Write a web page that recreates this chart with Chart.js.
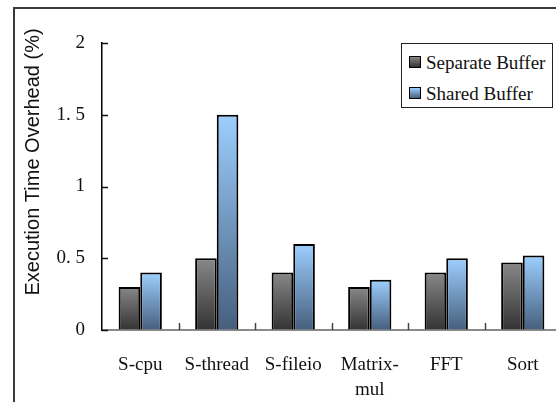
<!DOCTYPE html>
<html>
<head>
<meta charset="utf-8">
<script src="https://cdn.jsdelivr.net/npm/chart.js@4.4.1/dist/chart.umd.min.js"></script>
<style>
  html, body { margin: 0; padding: 0; background: #fff; overflow: hidden; width: 556px; height: 402px; }
  #wrap { position: relative; width: 556px; height: 402px; overflow: hidden; }
  #frame { position: absolute; left: 13px; top: 7px; width: 700px; height: 500px;
           border-left: 2px solid #3a3a3a; border-top: 2px solid #3a3a3a; }
  canvas { position: absolute; left: 0; top: 0; }
  #legend { position: absolute; left: 401px; top: 43px; width: 150px; height: 63px;
            border: 1.5px solid #222; background: #fff;
            font-family: "Liberation Serif", "Times New Roman", serif; font-size: 19px; color: #111; }
  .item { position: absolute; left: 7px; height: 22px; line-height: 22px; white-space: nowrap; }
  .box { display: inline-block; width: 10px; height: 10px; border: 1px solid #000; margin-right: 5px; vertical-align: 1px; }
</style>
</head>
<body>
<div id="wrap">
  <div id="frame"></div>
  <canvas id="myChart" width="575" height="402"></canvas>
  <div id="legend"></div>
</div>
<script>
const categories = ['S-cpu', 'S-thread', 'S-fileio', ['Matrix-', 'mul'], 'FFT', 'Sort'];
const seriesNames = ['Separate Buffer', 'Shared Buffer'];
const separateBuffer = [0.3, 0.5, 0.4, 0.3, 0.4, 0.47];
const sharedBuffer = [0.4, 1.5, 0.6, 0.35, 0.5, 0.52];
const yTicks = [0, 0.5, 1, 1.5, 2];
const yTitle = 'Execution Time Overhead (%)';

// top / bottom colours of each series gradient
const fills = [['#888888', '#333333'], ['#9dcfff', '#465f7e']];

function barGradient(i) {
    return function (c) {
        const chart = c.chart;
        if (!chart.chartArea || c.raw === undefined) return fills[i][0];
        const y = chart.scales.y;
        const top = y.getPixelForValue(c.raw);
        const bottom = y.getPixelForValue(0);
        const g = chart.ctx.createLinearGradient(0, top, 0, bottom);
        g.addColorStop(0, fills[i][0]);
        g.addColorStop(1, fills[i][1]);
        return g;
    };
}

// ticks pointing into the plot, and the rotated y title
const innerTicks = {
    id: 'innerTicks',
    afterDraw(chart) {
        const ctx = chart.ctx;
        const area = chart.chartArea;
        const x = chart.scales.x;
        const y = chart.scales.y;
        ctx.save();
        ctx.lineWidth = 1.5;
        ctx.strokeStyle = '#111';
        y.ticks.forEach(function (t, i) {
            const py = Math.round(y.getPixelForTick(i)) + 0.5;
            ctx.beginPath();
            ctx.moveTo(area.left, py);
            ctx.lineTo(area.left + 6, py);
            ctx.stroke();
        });
        ctx.strokeStyle = '#444';
        for (let i = 1; i < categories.length; i++) {
            const px = Math.round(x.getPixelForValue(i - 0.5)) + 0.5;
            ctx.beginPath();
            ctx.moveTo(px, area.bottom);
            ctx.lineTo(px, area.bottom - 7);
            ctx.stroke();
        }
        ctx.translate(39, 162);
        ctx.rotate(-Math.PI / 2);
        ctx.fillStyle = '#111';
        ctx.font = '20px "Liberation Sans", Arial, sans-serif';
        ctx.textAlign = 'center';
        ctx.textBaseline = 'alphabetic';
        ctx.fillText(yTitle, 0, 0);
        ctx.restore();
    }
};

const config = {
    type: 'bar',
    data: {
        labels: categories,
        datasets: [{
            label: seriesNames[0],
            data: separateBuffer,
            backgroundColor: barGradient(0),
            borderColor: '#000',
            borderWidth: 2,
            categoryPercentage: 0.565,
            barPercentage: 1.0
        }, {
            label: seriesNames[1],
            data: sharedBuffer,
            backgroundColor: barGradient(1),
            borderColor: '#000',
            borderWidth: 2,
            categoryPercentage: 0.565,
            barPercentage: 1.0
        }]
    },
    options: {
        responsive: false,
        animation: false,
        layout: { padding: { left: 0, right: 14, top: 43, bottom: 0 } },
        plugins: {
            legend: { display: false },
            tooltip: { enabled: false }
        },
        scales: {
            x: {
                grid: { display: true, drawOnChartArea: false, drawTicks: false },
                border: { display: true, color: '#8a8a8a', width: 2 },
                ticks: {
                    color: '#111',
                    padding: 22,
                    maxRotation: 0,
                    autoSkip: false,
                    font: { family: '"Liberation Serif", "Times New Roman", serif', size: 19, lineHeight: 1.35 }
                },
                afterFit(scale) { scale.height = 72; }
            },
            y: {
                min: 0,
                max: 2,
                afterBuildTicks(scale) { scale.ticks = yTicks.map(v => ({ value: v })); },
                grid: { display: true, drawOnChartArea: false, drawTicks: false },
                border: { display: true, color: '#000', width: 1.5 },
                ticks: {
                    color: '#111',
                    padding: 17,
                    font: { family: '"Liberation Serif", "Times New Roman", serif', size: 19 },
                    callback: function (v) {
                        return Number.isInteger(v) ? String(v) : String(v).replace('.', '. ');
                    }
                },
                afterFit(scale) { scale.width = 102; }
            }
        }
    },
    plugins: [innerTicks]
};

const myChart = new Chart(document.getElementById('myChart'), config);

// legend box inside the plot, built from the series names
const legend = document.getElementById('legend');
seriesNames.forEach(function (name, i) {
    const item = document.createElement('div');
    item.className = 'item';
    item.style.top = (8 + i * 31) + 'px';
    const box = document.createElement('span');
    box.className = 'box';
    box.style.background = 'linear-gradient(' + fills[i][0] + ', ' + fills[i][1] + ')';
    item.appendChild(box);
    item.appendChild(document.createTextNode(name));
    legend.appendChild(item);
});
</script>
</body>
</html>
